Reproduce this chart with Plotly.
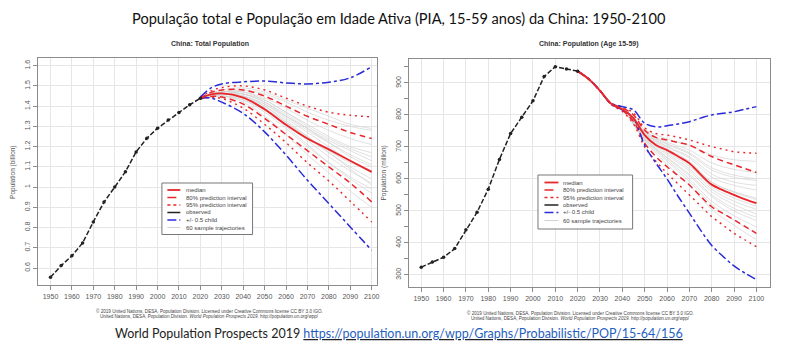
import plotly.graph_objects as go

# ---------------- DATA ----------------
obs_years = [1950, 1955, 1960, 1965, 1970, 1975, 1980, 1985, 1990, 1995, 2000, 2005, 2010, 2015, 2020]
total_observed = [0.554, 0.612, 0.660, 0.724, 0.828, 0.926, 1.000, 1.076, 1.174, 1.241, 1.291, 1.331, 1.369, 1.407, 1.439]
pia_observed = [324, 340, 355, 382, 441, 496, 568, 661, 742, 793, 844, 920, 951, 944, 937]

proj_years = [2020, 2025, 2030, 2040, 2050, 2060, 2070, 2080, 2090, 2100]
total_median = [1.439, 1.458, 1.463, 1.442, 1.385, 1.308, 1.240, 1.186, 1.130, 1.075]
total_pi80_up = [1.440, 1.468, 1.480, 1.480, 1.450, 1.400, 1.350, 1.310, 1.270, 1.240]
total_pi80_lo = [1.437, 1.448, 1.445, 1.410, 1.340, 1.260, 1.180, 1.100, 1.020, 0.927]
total_pi95_up = [1.442, 1.475, 1.492, 1.500, 1.480, 1.440, 1.400, 1.370, 1.355, 1.347]
total_pi95_lo = [1.435, 1.443, 1.438, 1.390, 1.310, 1.220, 1.120, 1.030, 0.930, 0.828]
total_child_up = [1.445, 1.490, 1.510, 1.520, 1.524, 1.515, 1.510, 1.518, 1.540, 1.595]
total_child_lo = [1.440, 1.440, 1.420, 1.364, 1.273, 1.158, 1.034, 0.919, 0.803, 0.688]

samp_years_total = [2020, 2030, 2040, 2050, 2060, 2070, 2080, 2090, 2100]
total_samples = [
    [1.44, 1.47, 1.47, 1.43, 1.37, 1.30, 1.24, 1.19, 1.15],
    [1.44, 1.46, 1.45, 1.40, 1.32, 1.24, 1.17, 1.10, 1.04],
    [1.44, 1.47, 1.48, 1.46, 1.42, 1.37, 1.33, 1.30, 1.28],
    [1.44, 1.46, 1.44, 1.38, 1.30, 1.21, 1.12, 1.04, 0.97],
    [1.44, 1.47, 1.46, 1.42, 1.35, 1.28, 1.22, 1.16, 1.11],
    [1.44, 1.45, 1.43, 1.37, 1.29, 1.20, 1.12, 1.05, 0.99],
    [1.44, 1.48, 1.49, 1.47, 1.43, 1.39, 1.35, 1.31, 1.29],
    [1.44, 1.46, 1.45, 1.41, 1.34, 1.27, 1.20, 1.13, 1.07],
    [1.44, 1.45, 1.42, 1.35, 1.26, 1.16, 1.07, 0.98, 0.90],
    [1.44, 1.47, 1.47, 1.44, 1.39, 1.33, 1.28, 1.24, 1.21],
    [1.44, 1.46, 1.45, 1.41, 1.35, 1.29, 1.23, 1.18, 1.13],
    [1.44, 1.46, 1.44, 1.39, 1.32, 1.25, 1.18, 1.12, 1.08],
    [1.44, 1.47, 1.46, 1.43, 1.37, 1.31, 1.25, 1.20, 1.17],
    [1.44, 1.45, 1.43, 1.38, 1.31, 1.23, 1.15, 1.08, 1.02],
    [1.44, 1.46, 1.46, 1.42, 1.36, 1.29, 1.22, 1.15, 1.10],
    [1.44, 1.45, 1.44, 1.40, 1.33, 1.25, 1.17, 1.09, 1.01],
]

pia_proj_years = [2020, 2025, 2030, 2035, 2040, 2045, 2050, 2055, 2060, 2065, 2070, 2075, 2080, 2085, 2090, 2095, 2100]
pia_median = [937, 912, 876, 835, 818, 790, 737, 706, 690, 670, 649, 614, 582, 565, 550, 536, 524]
pia_pi80_up = [937, 912, 876, 836, 822, 800, 752, 730, 722, 714, 706, 688, 670, 656, 644, 632, 620]
pia_pi80_lo = [937, 912, 876, 834, 814, 780, 712, 670, 638, 610, 581, 546, 513, 492, 472, 451, 430]
pia_pi95_up = [937, 912, 876, 837, 825, 806, 760, 742, 737, 730, 722, 711, 701, 693, 685, 682, 680]
pia_pi95_lo = [937, 912, 876, 833, 811, 772, 700, 655, 618, 584, 550, 516, 482, 456, 430, 409, 388]
pia_child_up = [937, 912, 876, 836, 826, 816, 774, 763, 766, 772, 779, 790, 800, 805, 810, 818, 826]
pia_child_lo = [937, 912, 876, 834, 816, 790, 705, 650, 600, 545, 493, 440, 392, 358, 328, 305, 285]

samp_years_pia = [2035, 2040, 2050, 2060, 2070, 2080, 2090, 2100]
pia_samples = [
    [835, 820, 740, 695, 655, 590, 560, 540],
    [835, 818, 730, 675, 625, 560, 520, 490],
    [835, 822, 750, 715, 690, 650, 630, 620],
    [835, 816, 725, 660, 600, 530, 485, 450],
    [835, 820, 742, 700, 665, 605, 580, 565],
    [835, 817, 728, 665, 610, 545, 500, 470],
    [835, 823, 755, 725, 705, 675, 660, 655],
    [835, 819, 735, 685, 640, 575, 540, 515],
    [835, 815, 720, 645, 580, 505, 455, 410],
    [835, 821, 745, 708, 678, 628, 605, 595],
    [835, 819, 738, 690, 650, 590, 558, 535],
    [835, 818, 732, 680, 632, 568, 530, 505],
    [835, 820, 744, 702, 670, 615, 590, 580],
    [835, 817, 726, 668, 615, 550, 508, 480],
    [835, 821, 748, 710, 682, 635, 612, 600],
    [835, 816, 722, 655, 592, 520, 470, 430],
]

x_ticks = list(range(1950, 2101, 10))
total_ticks = [0.6, 0.7, 0.8, 0.9, 1.0, 1.1, 1.2, 1.3, 1.4, 1.5, 1.6]
total_ticktext = ["0.6", "0.7", "0.8", "0.9", "1", "1.1", "1.2", "1.3", "1.4", "1.5", "1.6"]
pia_ticks = [300, 400, 500, 600, 700, 800, 900]

legend_labels = ["median", "80% prediction interval", "95% prediction interval",
                 "observed", "+/- 0.5 child", "60 sample trajectories"]

main_title = "População total e População em Idade Ativa (PIA, 15-59 anos) da China: 1950-2100"
left_title = "China: Total Population"
right_title = "China: Population (Age 15-59)"
credit1 = "© 2019 United Nations, DESA, Population Division. Licensed under Creative Commons license CC BY 3.0 IGO."
credit2 = "United Nations, DESA, Population Division. <i>World Population Prospects 2019</i>. http://population.un.org/wpp/"
source_text = "World Population Prospects 2019 "
source_link = "https://population.un.org/wpp/Graphs/Probabilistic/POP/15-64/156"

# ---------------- STYLES ----------------
W, H = 800, 352
RED = "#e8262b"
BLUE = "#2b2bd9"
GREY = "#d2d2d2"


def px(x):
    return x / W


def py(y):
    return 1 - y / H


fig = go.Figure()


def add_set(xa, ya, samp_years, samples, years, med, p80u, p80l, p95u, p95l, cu, cl, oy, ov):
    for s in samples:
        fig.add_trace(go.Scatter(x=samp_years, y=s, mode="lines", line=dict(color=GREY, width=0.7, shape="spline"),
                                 xaxis=xa, yaxis=ya, showlegend=False, hoverinfo="skip"))
    for arr in (p95u, p95l):
        fig.add_trace(go.Scatter(x=years, y=arr, mode="lines",
                                 line=dict(color=RED, width=1.4, dash="2px,4px", shape="spline"),
                                 xaxis=xa, yaxis=ya, showlegend=False))
    for arr in (p80u, p80l):
        fig.add_trace(go.Scatter(x=years, y=arr, mode="lines",
                                 line=dict(color=RED, width=1.5, dash="6px,4px", shape="spline"),
                                 xaxis=xa, yaxis=ya, showlegend=False))
    for arr in (cu, cl):
        fig.add_trace(go.Scatter(x=years, y=arr, mode="lines",
                                 line=dict(color=BLUE, width=1.5, dash="dashdot", shape="spline"),
                                 xaxis=xa, yaxis=ya, showlegend=False))
    fig.add_trace(go.Scatter(x=years, y=med, mode="lines", line=dict(color=RED, width=1.9, shape="spline"),
                             xaxis=xa, yaxis=ya, showlegend=False))
    fig.add_trace(go.Scatter(x=oy, y=ov, mode="lines+markers", line=dict(color="#222", width=1.5, dash="5px,2px"),
                             marker=dict(color="#222", size=3.5), xaxis=xa, yaxis=ya, showlegend=False))


add_set("x", "y", samp_years_total, total_samples, proj_years, total_median, total_pi80_up, total_pi80_lo,
        total_pi95_up, total_pi95_lo, total_child_up, total_child_lo, obs_years, total_observed)
add_set("x2", "y2", samp_years_pia, pia_samples, pia_proj_years, pia_median, pia_pi80_up, pia_pi80_lo,
        pia_pi95_up, pia_pi95_lo, pia_child_up, pia_child_lo, obs_years, pia_observed)

axis_common = dict(showline=True, mirror=True, linecolor="#8c8c8c", linewidth=1.2, ticks="outside", ticklen=4,
                   tickcolor="#8c8c8c", gridcolor="#e6e6e6", gridwidth=1, zeroline=False,
                   tickfont=dict(family="Liberation Sans", size=7, color="#555"))

fig.update_layout(
    width=W, height=H, margin=dict(l=0, r=0, t=0, b=0),
    paper_bgcolor="white", plot_bgcolor="white", showlegend=False,
    xaxis=dict(domain=[px(38), px(378)], range=[1944.1, 2102.3], tickvals=x_ticks, anchor="y", **axis_common),
    yaxis=dict(domain=[py(285), py(58)], range=[0.516, 1.638], tickvals=total_ticks, ticktext=total_ticktext,
               tickangle=-90, anchor="x", **axis_common),
    xaxis2=dict(domain=[px(410.7), px(772.7)], range=[1944.6, 2106], tickvals=x_ticks, anchor="y2", **axis_common),
    yaxis2=dict(domain=[py(287), py(59.3)], range=[262, 974], tickvals=pia_ticks, tickangle=-90, anchor="x2",
                minor=dict(dtick=50, ticks="outside", ticklen=4, tickcolor="#8c8c8c", showgrid=False),
                **axis_common),
)

ann = []
ann.append(dict(text=main_title, x=px(400), y=py(18), xref="paper", yref="paper", showarrow=False,
                font=dict(family="Lato", size=14.6, color="#111"), xanchor="center", yanchor="middle"))
ann.append(dict(text="<b>" + left_title + "</b>", x=px(211), y=py(44), xref="paper", yref="paper", showarrow=False,
                font=dict(family="Liberation Sans", size=7, color="#333"), xanchor="center", yanchor="middle"))
ann.append(dict(text="<b>" + right_title + "</b>", x=px(591), y=py(44), xref="paper", yref="paper", showarrow=False,
                font=dict(family="Liberation Sans", size=7, color="#333"), xanchor="center", yanchor="middle"))
ann.append(dict(text="Population (billion)", x=px(13), y=py(172), xref="paper", yref="paper", showarrow=False,
                textangle=-90, font=dict(family="Liberation Sans", size=6.5, color="#555"), xanchor="center", yanchor="middle"))
ann.append(dict(text="Population (million)", x=px(385), y=py(173), xref="paper", yref="paper", showarrow=False,
                textangle=-90, font=dict(family="Liberation Sans", size=6.5, color="#555"), xanchor="center", yanchor="middle"))
for cx, y1 in ((210, 310.5), (583, 312.5)):
    ann.append(dict(text=credit1, x=px(cx), y=py(y1), xref="paper", yref="paper", showarrow=False,
                    font=dict(family="Liberation Sans", size=4.6, color="#444"), xanchor="center", yanchor="middle"))
    ann.append(dict(text=credit2, x=px(cx), y=py(y1 + 6), xref="paper", yref="paper", showarrow=False,
                    font=dict(family="Liberation Sans", size=4.6, color="#444"), xanchor="center", yanchor="middle"))
ann.append(dict(text=source_text + "<u><span style='color:#1f5fbf'>" + source_link + "</span></u>",
                x=px(400), y=py(333), xref="paper", yref="paper", showarrow=False,
                font=dict(family="Lato", size=12.5, color="#222"), xanchor="center", yanchor="middle"))

shapes = []
legend_styles = [(RED, "solid", 1.8), (RED, "dash", 1.5), (RED, "dot", 1.5),
                 ("#222", "solid", 1.5), (BLUE, "dashdot", 1.5), (GREY, "solid", 1.0)]


def add_legend(x0, y0, x1, y1, rows, lx0, lx1, tx):
    shapes.append(dict(type="rect", xref="paper", yref="paper", x0=px(x0), x1=px(x1), y0=py(y0), y1=py(y1),
                       line=dict(color="#777", width=1), fillcolor="white", layer="above"))
    for (col, dash, w), label, ry in zip(legend_styles, legend_labels, rows):
        shapes.append(dict(type="line", xref="paper", yref="paper", x0=px(lx0), x1=px(lx1), y0=py(ry), y1=py(ry),
                           line=dict(color=col, width=w, dash=dash), layer="above"))
        ann.append(dict(text=label, x=px(tx), y=py(ry), xref="paper", yref="paper", showarrow=False,
                        font=dict(family="Liberation Sans", size=6, color="#444"), xanchor="left", yanchor="middle"))


add_legend(162.5, 183, 253.5, 234.5, [190, 197.5, 205, 212.5, 220, 227.5], 168, 181, 185)
add_legend(540, 175, 635, 229, [182.5, 190, 197.5, 205, 212.5, 220.5], 546.5, 560.5, 563)

fig.update_layout(annotations=ann, shapes=shapes)
fig.write_html("out.html")
